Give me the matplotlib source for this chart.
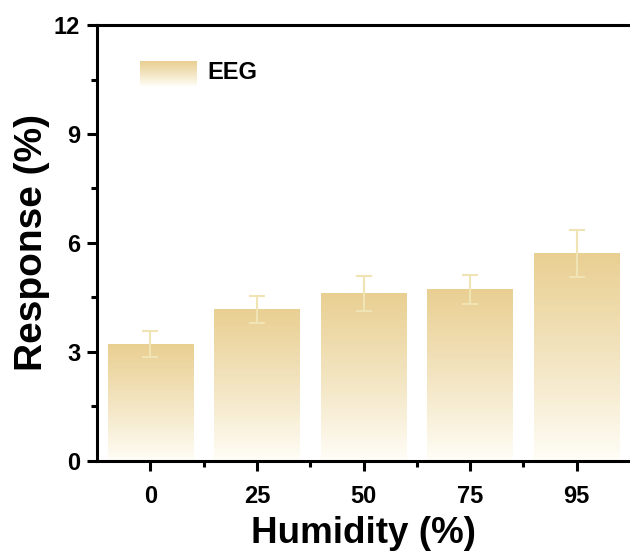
import numpy as np
import matplotlib.pyplot as plt
from matplotlib.colors import LinearSegmentedColormap
from matplotlib.legend_handler import HandlerBase
from matplotlib.image import BboxImage
from matplotlib.transforms import Bbox, TransformedBbox
from matplotlib.patches import Rectangle
from matplotlib.ticker import MultipleLocator

plt.rcParams['font.family'] = ['Liberation Sans', 'DejaVu Sans']
plt.rcParams['font.weight'] = 'bold'

humidity = ["0", "25", "50", "75", "95"]
response = [3.22, 4.16, 4.62, 4.73, 5.70]
response_err = [0.36, 0.37, 0.48, 0.40, 0.65]

bar_top = "#E9CF92"
bar_bottom = "#FFFEF8"
err_color = "#F0E4B4"
cmap = LinearSegmentedColormap.from_list("eeg", [bar_bottom, bar_top])
grad = np.linspace(0, 1, 256).reshape(-1, 1) ** 0.9


class GradientHandler(HandlerBase):
    # legend key drawn as the same vertical gradient as the bars
    def create_artists(self, legend, orig_handle, xdescent, ydescent,
                       width, height, fontsize, trans):
        box = Bbox.from_bounds(-xdescent, -ydescent - 0.2 * height, width, height * 1.2)
        img = BboxImage(TransformedBbox(box, trans), cmap=cmap, origin="lower",
                        interpolation="bilinear")
        img.set_data(grad)
        img.set_clim(0, 1)
        return [img]


fig = plt.figure(figsize=(6.3, 5.56), dpi=100)
ax = fig.add_axes([0.154, 0.171, 0.846, 0.784])

x = np.arange(len(humidity))
width = 0.8
bars = ax.bar(x, response, width, color="none", edgecolor="none", zorder=2)
for b in bars:
    ax.imshow(grad, cmap=cmap, origin="lower", aspect="auto", interpolation="bilinear",
              extent=(b.get_x(), b.get_x() + b.get_width(), 0, b.get_height()),
              vmin=0, vmax=1, zorder=2)
ax.errorbar(x, response, yerr=response_err, fmt="none", ecolor=err_color,
            elinewidth=1.5, capsize=6, capthick=1.5, zorder=3)

ax.set_xlim(-0.5, 4.5)
ax.set_ylim(0, 12)
ax.set_xticks(x)
ax.set_xticklabels(humidity)
ax.set_xticks(x[:-1] + 0.5, minor=True)
ax.yaxis.set_major_locator(MultipleLocator(3))
ax.yaxis.set_minor_locator(MultipleLocator(1.5))

for side in ["left", "bottom", "top"]:
    ax.spines[side].set_linewidth(2.2)
ax.spines["right"].set_visible(False)
ax.tick_params(which="major", direction="out", length=7, width=2.2, labelsize=17)
ax.tick_params(which="minor", direction="out", length=4, width=2.2)
ax.tick_params(axis="x", which="major", pad=10)
ax.tick_params(axis="y", which="major", pad=5)

ax.set_xlabel("Humidity (%)", fontsize=26.5, fontweight="bold", labelpad=6)
ax.set_ylabel("Response (%)", fontsize=28, fontweight="bold", labelpad=3)

handle = Rectangle((0, 0), 1, 1)
ax.legend([handle], ["EEG"], handler_map={Rectangle: GradientHandler()},
          loc="upper left", bbox_to_anchor=(0.08, 0.917), frameon=False,
          fontsize=17, handlelength=2.4, handleheight=0.95, handletextpad=0.45,
          borderpad=0, borderaxespad=0)

plt.savefig("out.png", dpi=100)
